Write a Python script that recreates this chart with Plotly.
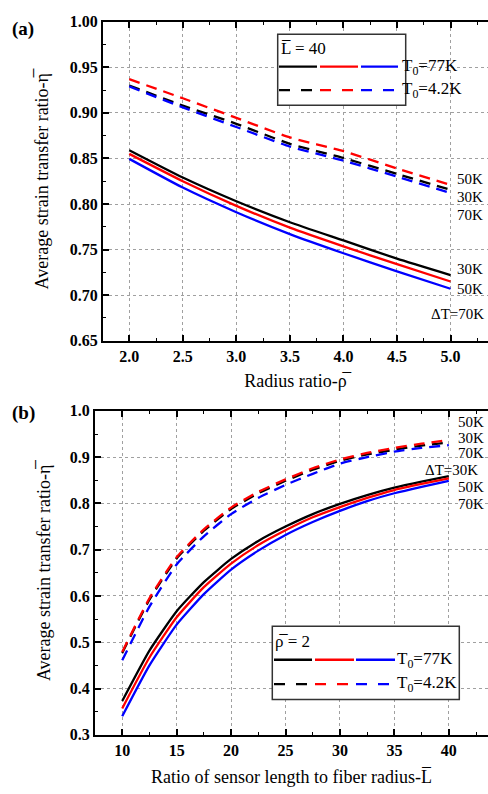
import plotly.graph_objects as go

# ---------------- data ----------------
# Panel (a): average strain transfer ratio vs radius ratio (L = 40)
rho = [2.0, 2.5, 3.0, 3.5, 4.0, 4.5, 5.0]
a_77_30 = [0.859, 0.829, 0.803, 0.780, 0.760, 0.740, 0.722]
a_77_50 = [0.855, 0.825, 0.798, 0.774, 0.7535, 0.734, 0.715]
a_77_70 = [0.8495, 0.818, 0.791, 0.767, 0.746, 0.726, 0.707]
a_42_30 = [0.930, 0.908, 0.888, 0.866, 0.8505, 0.833, 0.8155]
a_42_50 = [0.937, 0.916, 0.8945, 0.873, 0.858, 0.839, 0.821]
a_42_70 = [0.929, 0.906, 0.8845, 0.863, 0.8476, 0.830, 0.812]

# Panel (b): average strain transfer ratio vs sensor length ratio (rho = 2)
Lr = [10, 12.5, 15, 17.5, 20, 22.5, 25, 27.5, 30, 32.5, 35, 37.5, 40]
b_77_30 = [0.373, 0.482, 0.567, 0.630, 0.680, 0.719, 0.750, 0.777, 0.799, 0.818, 0.834, 0.847, 0.859]
b_77_50 = [0.357, 0.467, 0.554, 0.619, 0.670, 0.710, 0.742, 0.770, 0.792, 0.812, 0.829, 0.842, 0.854]
b_77_70 = [0.340, 0.450, 0.538, 0.604, 0.657, 0.698, 0.732, 0.760, 0.784, 0.805, 0.822, 0.836, 0.849]
b_42_30 = [0.477, 0.592, 0.681, 0.741, 0.788, 0.822, 0.849, 0.873, 0.892, 0.906, 0.916, 0.925, 0.932]
b_42_50 = [0.479, 0.595, 0.684, 0.744, 0.791, 0.825, 0.852, 0.876, 0.895, 0.909, 0.920, 0.929, 0.937]
b_42_70 = [0.461, 0.577, 0.668, 0.729, 0.777, 0.812, 0.840, 0.864, 0.886, 0.900, 0.912, 0.920, 0.926]

W, H = 488, 794
FONT = "Liberation Serif"
BLACK, RED, BLUE = "#000000", "#ff0000", "#0000ff"
DASH = "11px,7px"

fig = go.Figure()

def add(x, y, color, dash, xa, ya):
    fig.add_trace(go.Scatter(x=x, y=y, mode="lines", xaxis=xa, yaxis=ya,
                             line=dict(color=color, width=2.3, dash=dash, shape="spline", smoothing=0.5),
                             showlegend=False, hoverinfo="skip"))

# panel a
add(rho, a_42_30, BLACK, DASH, "x", "y")
add(rho, a_42_70, BLUE, DASH, "x", "y")
add(rho, a_42_50, RED, DASH, "x", "y")
add(rho, a_77_30, BLACK, "solid", "x", "y")
add(rho, a_77_50, RED, "solid", "x", "y")
add(rho, a_77_70, BLUE, "solid", "x", "y")
# panel b
add(Lr, b_42_30, BLACK, DASH, "x2", "y2")
add(Lr, b_42_70, BLUE, DASH, "x2", "y2")
add(Lr, b_42_50, RED, DASH, "x2", "y2")
add(Lr, b_77_30, BLACK, "solid", "x2", "y2")
add(Lr, b_77_50, RED, "solid", "x2", "y2")
add(Lr, b_77_70, BLUE, "solid", "x2", "y2")

def px(x):
    return x / W

def py(y):
    return 1 - y / H

tickfont = dict(family=FONT, size=16, color="black", weight="bold")
titlefont = dict(family=FONT, size=18, color="black")

common_ax = dict(showline=True, linecolor="black", linewidth=2, mirror="ticks",
                 ticks="inside", ticklen=6, tickwidth=1.6, tickcolor="black",
                 showgrid=True, gridcolor="#a0a0a0", griddash="dot", gridwidth=1,
                 zeroline=False, tickfont=tickfont)

fig.update_layout(
    width=W, height=H, margin=dict(l=0, r=0, t=0, b=0),
    paper_bgcolor="white", plot_bgcolor="white",
    font=dict(family=FONT, color="black"),
    xaxis=dict(common_ax, domain=[px(103), 1], range=[1.755, 5.35], dtick=0.5, tick0=2.0,
               tickformat=".1f", anchor="y",
               minor=dict(dtick=0.25, ticks="inside", ticklen=3, tickwidth=1.4, tickcolor="black", showgrid=False),
               title=dict(text="Radius ratio-\u03c1\u0305", font=titlefont, standoff=10)),
    yaxis=dict(common_ax, mirror=False, domain=[py(340), py(14)], range=[0.65, 1.00], dtick=0.05, tick0=0.65,
               tickformat=".2f", anchor="x",
               minor=dict(dtick=0.025, ticks="inside", ticklen=3, tickwidth=1.4, tickcolor="black", showgrid=False),
               title=dict(text="Average strain transfer ratio-\u03b7\u0305", font=titlefont, standoff=16)),
    xaxis2=dict(common_ax, domain=[px(95), 1], range=[7.5, 43.6], dtick=5, tick0=10,
                anchor="y2",
                minor=dict(dtick=2.5, ticks="inside", ticklen=3, tickwidth=1.4, tickcolor="black", showgrid=False),
                title=dict(text="Ratio of sensor length to fiber radius-L\u0305", font=titlefont, standoff=12)),
    yaxis2=dict(common_ax, mirror=False, domain=[py(742.7), py(411.7)], range=[0.3, 1.0], dtick=0.1, tick0=0.3,
                tickformat=".1f", anchor="x2",
                minor=dict(dtick=0.05, ticks="inside", ticklen=3, tickwidth=1.4, tickcolor="black", showgrid=False),
                title=dict(text="Average strain transfer ratio-\u03b7\u0305", font=titlefont, standoff=14)),
)

shapes = []
annots = []
LEG_DASH = "11px,11px"

def legend_box(x0, y0, x1, y1, title, ys, ydash, segs, textx):
    shapes.append(dict(type="rect", xref="paper", yref="paper", x0=px(x0), x1=px(x1),
                       y0=py(y1), y1=py(y0), line=dict(color="#333333", width=1.5),
                       fillcolor="white", layer="above"))
    cols = [BLACK, RED, BLUE]
    for (sx0, sx1), c in zip(segs, cols):
        shapes.append(dict(type="line", xref="paper", yref="paper", x0=px(sx0), x1=px(sx1),
                           y0=py(ys), y1=py(ys), line=dict(color=c, width=2.3), layer="above"))
        shapes.append(dict(type="line", xref="paper", yref="paper", x0=px(sx0), x1=px(sx1),
                           y0=py(ydash), y1=py(ydash), line=dict(color=c, width=2.3, dash=LEG_DASH),
                           layer="above"))
    annots.append(dict(xref="paper", yref="paper", x=px(x0 + 1), y=py(title[1]), text=title[0],
                       showarrow=False, xanchor="left", yanchor="middle",
                       font=dict(family=FONT, size=17, color="black")))
    annots.append(dict(xref="paper", yref="paper", x=px(textx), y=py(ys), text="T<sub>0</sub>=77K",
                       showarrow=False, xanchor="left", yanchor="middle",
                       font=dict(family=FONT, size=17, color="black")))
    annots.append(dict(xref="paper", yref="paper", x=px(textx), y=py(ydash), text="T<sub>0</sub>=4.2K",
                       showarrow=False, xanchor="left", yanchor="middle",
                       font=dict(family=FONT, size=17, color="black")))

legend_box(277.7, 26.7, 405.7, 99.3, ("L\u0305 = 40", 41), 60, 84,
           [(279, 317), (320, 358), (361, 398)], 400)
legend_box(272.3, 631.7, 459.3, 706.7, ("\u03c1\u0305 = 2", 647), 666, 691,
           [(274, 312), (315, 354), (356, 395)], 395)

lab = dict(family=FONT, size=15, color="black")
# panel a curve labels
for txt, yv in [("50K", 0.8273), ("30K", 0.808), ("70K", 0.788), ("30K", 0.7289), ("50K", 0.7063)]:
    annots.append(dict(xref="x", yref="y", x=5.04, y=yv, text=txt, showarrow=False,
                       xanchor="left", yanchor="middle", font=lab))
annots.append(dict(xref="x", yref="y", x=5.335, y=0.6795, text="\u0394T=70K", showarrow=False,
                   xanchor="right", yanchor="middle", font=lab))
# panel b curve labels
for txt, yv in [("50K", 0.975), ("30K", 0.9416), ("70K", 0.910), ("50K", 0.836), ("70K", 0.799)]:
    annots.append(dict(xref="x2", yref="y2", x=40.7, y=yv, text=txt, showarrow=False,
                       xanchor="left", yanchor="middle", font=lab))
annots.append(dict(xref="x2", yref="y2", x=42.9, y=0.873, text="\u0394T=30K", showarrow=False,
                   xanchor="right", yanchor="middle", font=lab))

# panel letters
annots.append(dict(xref="paper", yref="paper", x=px(10), y=py(21), text="<b>(a)</b>", showarrow=False,
                   xanchor="left", yanchor="middle", font=dict(family=FONT, size=19, color="black")))
annots.append(dict(xref="paper", yref="paper", x=px(10), y=py(414), text="<b>(b)</b>", showarrow=False,
                   xanchor="left", yanchor="middle", font=dict(family=FONT, size=19, color="black")))

fig.update_layout(shapes=shapes, annotations=annots)
fig.write_html("out.html")
